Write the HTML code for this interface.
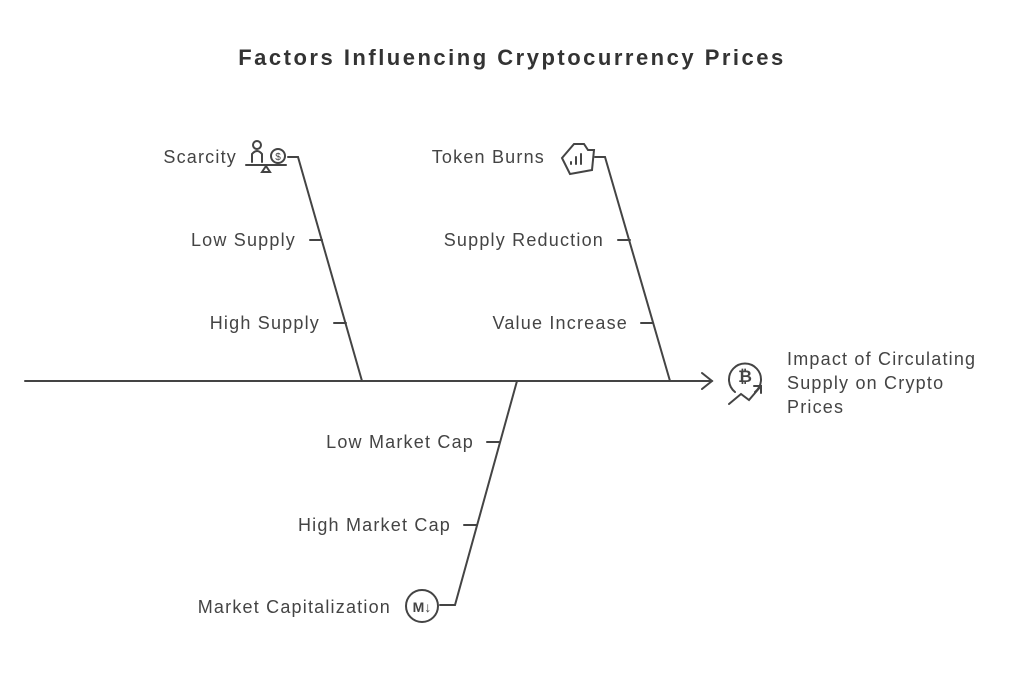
<!DOCTYPE html>
<html><head><style>
html,body{margin:0;padding:0;background:#fff;}
svg{display:block;}
text{font-family:"Liberation Sans",sans-serif;fill:#444;font-size:18px;letter-spacing:1.2px;}
</style></head><body>
<svg width="1024" height="674" viewBox="0 0 1024 674" xmlns="http://www.w3.org/2000/svg">
<text x="512" y="65" text-anchor="middle" style="font-size:22px;font-weight:bold;fill:#333;letter-spacing:2.5px">Factors Influencing Cryptocurrency Prices</text>
<g stroke="#444" stroke-width="2" fill="none" stroke-linecap="round">
<line x1="25" y1="381" x2="712" y2="381"/>
<polyline points="702,373 712,381 702,389"/>
<polyline points="288,157 298,157 362,381"/>
<line x1="310" y1="240" x2="322" y2="240"/>
<line x1="334" y1="323" x2="346" y2="323"/>
<polyline points="595,157 605,157 670,381"/>
<line x1="618" y1="240" x2="630" y2="240"/>
<line x1="641" y1="323" x2="653" y2="323"/>
<polyline points="517,381 455,605 440,605"/>
<line x1="487" y1="442" x2="500" y2="442"/>
<line x1="464" y1="525" x2="477" y2="525"/>
<circle cx="257" cy="145" r="4"/>
<path d="M252,162 v-8 q5,-6 10,0 v8"/>
<line x1="246" y1="165" x2="286" y2="165"/>
<path d="M262,172 l4,-6 l4,6 z"/>
<circle cx="278" cy="156" r="7"/>
<path d="M562,158 l12,-14 h10 l4,6 h6 l-2,20 l-22,4 z"/>
<line x1="571" y1="162" x2="571" y2="164"/><line x1="576" y1="157" x2="576" y2="164"/><line x1="581" y1="154" x2="581" y2="164"/>
<circle cx="422" cy="606" r="16"/>
<path d="M735,392 a16,16 0 1 1 20,0"/>
<path d="M729,404 l12,-10 l8,6 l12,-14"/>
<polyline points="754,386 761,386 761,393"/>
</g>
<text x="422" y="612" text-anchor="middle" style="font-size:14px;font-weight:bold;letter-spacing:0">M↓</text>
<text x="745" y="382" text-anchor="middle" style="font-size:17px;font-weight:bold;letter-spacing:0">₿</text>
<text x="278" y="160" text-anchor="middle" style="font-size:10px;letter-spacing:0">$</text>
<g text-anchor="end">
<text x="237" y="163">Scarcity</text>
<text x="296" y="246">Low Supply</text>
<text x="320" y="329">High Supply</text>
<text x="545" y="163">Token Burns</text>
<text x="604" y="246">Supply Reduction</text>
<text x="628" y="329">Value Increase</text>
<text x="474" y="448">Low Market Cap</text>
<text x="451" y="531">High Market Cap</text>
<text x="391" y="613">Market Capitalization</text>
</g>
<text x="787" y="365">Impact of Circulating</text>
<text x="787" y="389">Supply on Crypto</text>
<text x="787" y="413">Prices</text>
</svg>
</body></html>
